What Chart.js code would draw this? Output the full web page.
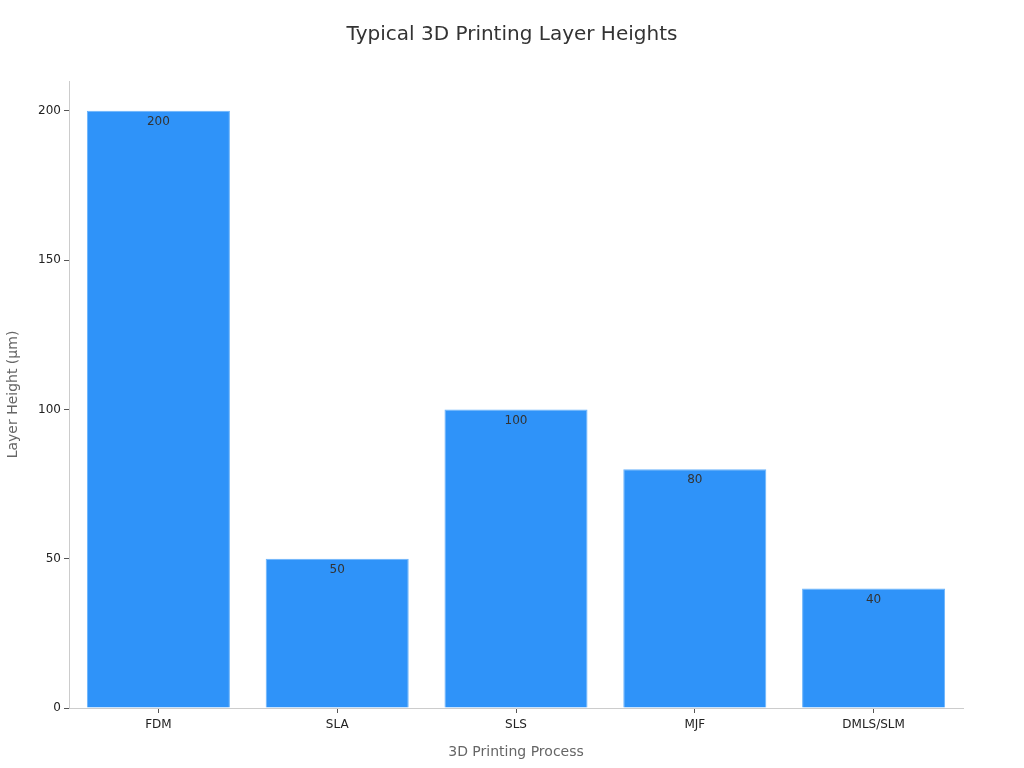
<!DOCTYPE html>
<html>
<head>
<meta charset="utf-8">
<script src="https://cdn.jsdelivr.net/npm/chart.js@4/dist/chart.umd.min.js"></script>
<style>
  html, body { margin: 0; padding: 0; background: #fff; }
  #wrap { width: 1024px; height: 768px; }
</style>
</head>
<body>
<div id="wrap"><canvas id="chart"></canvas></div>
<script>
// data
const processes = ['FDM', 'SLA', 'SLS', 'MJF', 'DMLS/SLM'];
const layerHeights = [200, 50, 100, 80, 40];
const yTicks = [0, 50, 100, 150, 200];

const FONT = "'DejaVu Sans', sans-serif";

// value labels just under the top edge of each bar
const barLabels = {
  id: 'barLabels',
  afterDatasetsDraw(chart) {
    const ctx = chart.ctx;
    const meta = chart.getDatasetMeta(0);
    ctx.save();
    ctx.font = '12px ' + FONT;
    ctx.fillStyle = '#333333';
    ctx.textAlign = 'center';
    ctx.textBaseline = 'middle';
    meta.data.forEach((bar, i) => {
      ctx.fillText(String(layerHeights[i]), bar.x, bar.y + 11);
    });
    ctx.restore();
  },
};

new Chart(document.getElementById('chart'), {
  type: 'bar',
  data: {
    labels: processes,
    datasets: [{
      label: 'Layer Height',
      data: layerHeights,
      backgroundColor: '#2f93f9',
      borderColor: '#6ab3fb',
      borderWidth: 1,
      barPercentage: 0.8,
      categoryPercentage: 1.0,
    }],
  },
  options: {
    responsive: true,
    maintainAspectRatio: false,
    animation: false,
    layout: { padding: 0 },
    plugins: {
      legend: { display: false },
      tooltip: { enabled: false },
      title: {
        display: true,
        text: 'Typical 3D Printing Layer Heights',
        color: '#333333',
        font: { family: FONT, size: 20, weight: 'normal' },
        padding: { top: 23, bottom: 34 },
      },
    },
    scales: {
      x: {
        offset: true,
        afterFit: (s) => { s.height = 60; },
        grid: {
          display: true,
          offset: false,
          drawOnChartArea: false,
          drawTicks: true,
          tickLength: 5,
          color: '#555555',
        },
        border: { display: true, color: '#cccccc' },
        ticks: { color: '#222222', font: { family: FONT, size: 12 }, padding: 5 },
        title: {
          display: true,
          text: '3D Printing Process',
          color: '#666666',
          font: { family: FONT, size: 14 },
          padding: { top: 0, bottom: 7 },
        },
      },
      y: {
        min: 0,
        max: 210,
        afterFit: (s) => { s.width = 69; },
        afterBuildTicks: (s) => { s.ticks = yTicks.map((v) => ({ value: v })); },
        grid: {
          display: true,
          drawOnChartArea: false,
          drawTicks: true,
          tickLength: 5,
          color: '#555555',
        },
        border: { display: true, color: '#cccccc' },
        ticks: { color: '#222222', font: { family: FONT, size: 12 }, padding: 3 },
        title: {
          display: true,
          text: 'Layer Height (μm)',
          color: '#666666',
          font: { family: FONT, size: 14 },
          padding: { top: 5, bottom: 0 },
        },
      },
      // empty right-hand axis, only reserves the right margin
      yRight: {
        position: 'right',
        display: true,
        afterFit: (s) => { s.width = 61; },
        grid: { display: false },
        border: { display: false },
        ticks: { display: false },
      },
    },
  },
  plugins: [barLabels],
});
</script>
</body>
</html>
